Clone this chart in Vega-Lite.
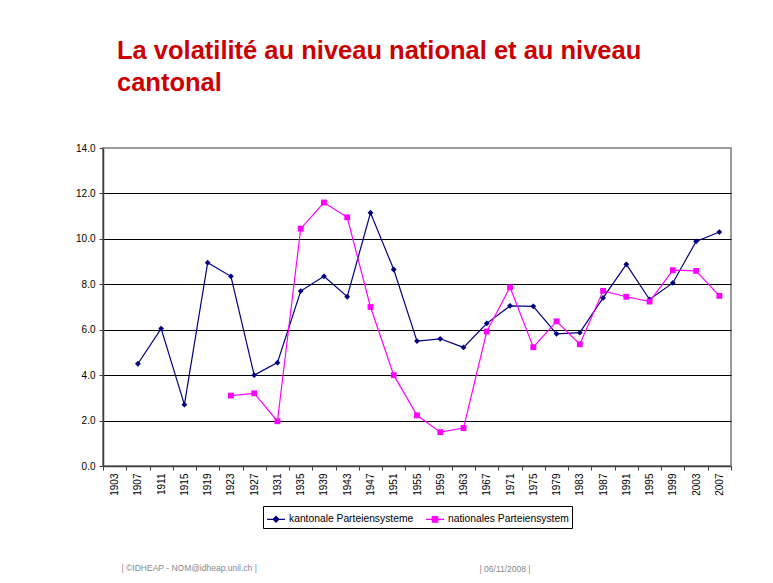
{
  "$schema": "https://vega.github.io/schema/vega-lite/v6.json",
  "width": 628,
  "height": 318,
  "autosize": {"type": "none"},
  "padding": {"left": 103, "top": 148, "right": 42, "bottom": 117},
  "background": "white",
  "title": {
    "text": ["La volatilité au niveau national et au niveau", "cantonal"],
    "anchor": "start",
    "frame": "group",
    "dx": 14,
    "offset": 22,
    "baseline": "bottom",
    "font": "Liberation Sans",
    "fontSize": 25.5,
    "fontWeight": "bold",
    "color": "#CC0000",
    "lineHeight": 32
  },
  "config": {
    "view": {"stroke": "#9a9a9a", "strokeWidth": 2},
    "axis": {
      "labelFont": "Liberation Sans",
      "titleFont": "Liberation Sans",
      "labelColor": "black",
      "tickColor": "#404040",
      "domainColor": "#404040",
      "domainWidth": 1.5
    }
  },
  "data": {
    "values": [
      {"year": "1907", "series": "kantonale Parteiensysteme", "value": 4.5},
      {"year": "1911", "series": "kantonale Parteiensysteme", "value": 6.05},
      {"year": "1915", "series": "kantonale Parteiensysteme", "value": 2.7},
      {"year": "1919", "series": "kantonale Parteiensysteme", "value": 8.95},
      {"year": "1923", "series": "kantonale Parteiensysteme", "value": 8.35},
      {"year": "1927", "series": "kantonale Parteiensysteme", "value": 4.0},
      {"year": "1931", "series": "kantonale Parteiensysteme", "value": 4.55},
      {"year": "1935", "series": "kantonale Parteiensysteme", "value": 7.7},
      {"year": "1939", "series": "kantonale Parteiensysteme", "value": 8.35},
      {"year": "1943", "series": "kantonale Parteiensysteme", "value": 7.45},
      {"year": "1947", "series": "kantonale Parteiensysteme", "value": 11.15},
      {"year": "1951", "series": "kantonale Parteiensysteme", "value": 8.65},
      {"year": "1955", "series": "kantonale Parteiensysteme", "value": 5.5},
      {"year": "1959", "series": "kantonale Parteiensysteme", "value": 5.6},
      {"year": "1963", "series": "kantonale Parteiensysteme", "value": 5.22},
      {"year": "1967", "series": "kantonale Parteiensysteme", "value": 6.28},
      {"year": "1971", "series": "kantonale Parteiensysteme", "value": 7.05},
      {"year": "1975", "series": "kantonale Parteiensysteme", "value": 7.03},
      {"year": "1979", "series": "kantonale Parteiensysteme", "value": 5.82},
      {"year": "1983", "series": "kantonale Parteiensysteme", "value": 5.87},
      {"year": "1987", "series": "kantonale Parteiensysteme", "value": 7.4},
      {"year": "1991", "series": "kantonale Parteiensysteme", "value": 8.88},
      {"year": "1995", "series": "kantonale Parteiensysteme", "value": 7.33},
      {"year": "1999", "series": "kantonale Parteiensysteme", "value": 8.06},
      {"year": "2003", "series": "kantonale Parteiensysteme", "value": 9.89},
      {"year": "2007", "series": "kantonale Parteiensysteme", "value": 10.3},
      {"year": "1923", "series": "nationales Parteiensystem", "value": 3.1},
      {"year": "1927", "series": "nationales Parteiensystem", "value": 3.2},
      {"year": "1931", "series": "nationales Parteiensystem", "value": 1.97},
      {"year": "1935", "series": "nationales Parteiensystem", "value": 10.45},
      {"year": "1939", "series": "nationales Parteiensystem", "value": 11.6},
      {"year": "1943", "series": "nationales Parteiensystem", "value": 10.95},
      {"year": "1947", "series": "nationales Parteiensystem", "value": 7.0},
      {"year": "1951", "series": "nationales Parteiensystem", "value": 4.0},
      {"year": "1955", "series": "nationales Parteiensystem", "value": 2.23},
      {"year": "1959", "series": "nationales Parteiensystem", "value": 1.49},
      {"year": "1963", "series": "nationales Parteiensystem", "value": 1.67},
      {"year": "1967", "series": "nationales Parteiensystem", "value": 5.92},
      {"year": "1971", "series": "nationales Parteiensystem", "value": 7.87},
      {"year": "1975", "series": "nationales Parteiensystem", "value": 5.23},
      {"year": "1979", "series": "nationales Parteiensystem", "value": 6.37},
      {"year": "1983", "series": "nationales Parteiensystem", "value": 5.36},
      {"year": "1987", "series": "nationales Parteiensystem", "value": 7.71},
      {"year": "1991", "series": "nationales Parteiensystem", "value": 7.45},
      {"year": "1995", "series": "nationales Parteiensystem", "value": 7.24},
      {"year": "1999", "series": "nationales Parteiensystem", "value": 8.62},
      {"year": "2003", "series": "nationales Parteiensystem", "value": 8.59},
      {"year": "2007", "series": "nationales Parteiensystem", "value": 7.49}
    ]
  },
  "encoding": {
    "x": {
      "field": "year",
      "type": "ordinal",
      "scale": {
        "type": "band",
        "paddingInner": 0,
        "paddingOuter": 0,
        "domain": ["1903","1907","1911","1915","1919","1923","1927","1931","1935","1939","1943","1947","1951","1955","1959","1963","1967","1971","1975","1979","1983","1987","1991","1995","1999","2003","2007"]
      },
      "axis": {
        "title": "| ©IDHEAP - NOM@idheap.unil.ch |",
        "titleX": 18,
        "titleY": 104,
        "titleAngle": 0,
        "titleAlign": "left",
        "titleAnchor": null,
        "titleBaseline": "alphabetic",
        "titleFontSize": 8.5,
        "titleFontWeight": "normal",
        "titleColor": "#888888",
        "labelAngle": 270,
        "labelFontSize": 10,
        "labelPadding": 3,
        "tickBand": "extent",
        "tickSize": 4,
        "grid": false
      }
    },
    "y": {
      "field": "value",
      "type": "quantitative",
      "scale": {"domain": [0, 14], "nice": false, "zero": true},
      "axis": {
        "values": [0, 2, 4, 6, 8, 10, 12, 14],
        "format": ".1f",
        "labelFontSize": 10,
        "labelPadding": 4,
        "tickSize": 4,
        "grid": true,
        "gridColor": {"condition": {"test": "datum.value === 14", "value": "#9a9a9a"}, "value": "black"},
        "gridWidth": 1,
        "title": "| 06/11/2008 |",
        "titleAngle": 0,
        "titleX": 376,
        "titleY": 423,
        "titleAlign": "left",
        "titleAnchor": null,
        "titleBaseline": "alphabetic",
        "titleFontSize": 8.5,
        "titleFontWeight": "normal",
        "titleColor": "#888888"
      }
    },
    "color": {
      "field": "series",
      "type": "nominal",
      "scale": {"domain": ["kantonale Parteiensysteme", "nationales Parteiensystem"], "range": ["#000080", "#FF00FF"]},
      "legend": {
        "orient": "none",
        "legendX": 160,
        "legendY": 358,
        "direction": "horizontal",
        "title": null,
        "strokeColor": "black",
        "fillColor": "white",
        "padding": 3,
        "labelFont": "Liberation Sans",
        "labelFontSize": 10.3,
        "labelColor": "black",
        "labelOffset": 3,
        "columnPadding": 9,
        "symbolSize": 324,
        "symbolStrokeWidth": 1.2,
        "encode": {
          "symbols": {
            "update": {
              "shape": {"signal": "datum.value === 'kantonale Parteiensysteme' ? 'M-1,0H1M0,-0.32L0.32,0L0,0.32L-0.32,0Z' : 'M-1,0H1M-0.3,-0.3H0.3V0.3H-0.3Z'"},
              "fill": {"scale": "color", "field": "value"},
              "stroke": {"scale": "color", "field": "value"},
              "opacity": {"value": 1}
            }
          }
        }
      }
    }
  },
  "layer": [
    {"mark": {"type": "line", "strokeWidth": 1.2}},
    {
      "transform": [{"filter": "datum.series === 'kantonale Parteiensysteme'"}],
      "mark": {"type": "point", "filled": true, "opacity": 1, "shape": "diamond", "size": 34}
    },
    {
      "transform": [{"filter": "datum.series === 'nationales Parteiensystem'"}],
      "mark": {"type": "point", "filled": true, "opacity": 1, "shape": "square", "size": 34}
    }
  ]
}
